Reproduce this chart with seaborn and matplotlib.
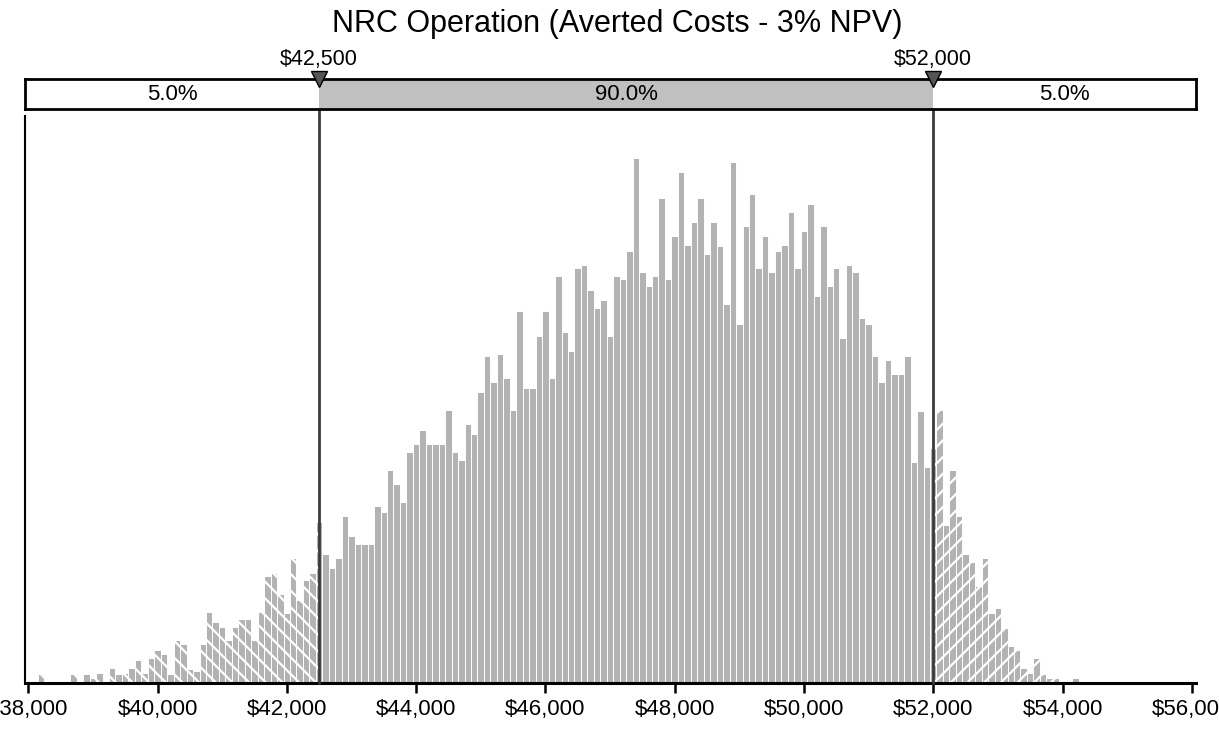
import numpy as np
import pandas as pd
import matplotlib
matplotlib.use("Agg")
import matplotlib.pyplot as plt
import seaborn as sns

# ---------------- data ----------------
title = "NRC Operation (Averted Costs - 3% NPV)"
bin_start = 38000          # centre of first bin
bin_width = 100
freq = [
    0, 0, 9, 0, 0, 0, 0, 9, 0, 9,            # 38000-38900
    5, 10, 0, 15, 9, 10, 15, 23, 10, 25,      # 39000-39900
    33, 29, 9, 43, 39, 14, 12, 39, 71, 61,    # 40000-40900
    56, 43, 56, 64, 64, 43, 71, 107, 110, 89, # 41000-41900
    70, 125, 83, 103, 110, 161, 129, 115, 125, 167,  # 42000-42900
    147, 139, 139, 139, 177, 171, 213, 199, 181, 231,  # 43000-43900
    239, 253, 239, 239, 239, 273, 231, 223, 259, 249,  # 44000-44900
    291, 327, 301, 329, 305, 273, 372, 295, 295, 347,  # 45000-45900
    372, 305, 407, 351, 332, 415, 418, 393, 375, 383,  # 46000-46900
    347, 407, 404, 432, 525, 411, 397, 407, 485, 404,  # 47000-47900
    447, 511, 438, 461, 485, 429, 461, 437, 379, 521,  # 48000-48900
    359, 457, 489, 415, 447, 411, 432, 438, 471, 415,  # 49000-49900
    452, 479, 387, 457, 397, 415, 345, 418, 411, 365,  # 50000-50900
    359, 327, 301, 323, 309, 309, 327, 221, 272, 216,  # 51000-51900
    235, 273, 158, 213, 167, 129, 121, 97, 125, 70,    # 52000-52900
    75, 55, 37, 33, 15, 10, 25, 9, 5, 5,               # 53000-53900
    0, 0, 5,                                           # 54000-54200
]
left_cut = 42500
right_cut = 52000
band_labels = ["5.0%", "90.0%", "5.0%"]
cut_labels = ["$42,500", "$52,000"]
tick_values = [38000, 40000, 42000, 44000, 46000, 48000, 50000, 52000, 54000, 56000]
tick_labels = ["$38,000", "$40,000", "$42,000", "$44,000", "$46,000",
               "$48,000", "$50,000", "$52,000", "$54,000", "$56,000"]
x_range = (37950, 56065)

# ---------------- build table ----------------
centers = bin_start + bin_width * np.arange(len(freq))
df = pd.DataFrame({"value": centers.astype(float), "freq": np.array(freq, dtype=float)})
half = bin_width // 2
last_edge = int(centers.max()) + half

edges_left = [float(e) for e in np.arange(bin_start - half, left_cut - half + 1, bin_width)] + [float(left_cut)]
edges_mid = ([float(left_cut)]
             + [float(e) for e in np.arange(left_cut + half, right_cut - half + 1, bin_width)]
             + [float(right_cut)])
edges_right = [float(right_cut)] + [float(e) for e in np.arange(right_cut + half, last_edge + 1, bin_width)]

df_left = df[df["value"] <= left_cut]
df_mid = df[(df["value"] >= left_cut) & (df["value"] <= right_cut)]
df_right = df[df["value"] >= right_cut]

# ---------------- style ----------------
sns.set_theme(style="white")
plt.rcParams["font.family"] = ["Liberation Sans", "DejaVu Sans"]
plt.rcParams["hatch.linewidth"] = 1.6
plt.rcParams["hatch.color"] = "white"

W, H = 1219, 730
fig = plt.figure(figsize=(W / 100, H / 100), dpi=100)


def fx(px):
    return px / W


def fy(py):
    return 1 - py / H


ax_l, ax_r, ax_t, ax_b = 25, 1196, 116, 682.5
ax = fig.add_axes([fx(ax_l), fy(ax_b), fx(ax_r) - fx(ax_l), fy(ax_t) - fy(ax_b)])

bar_color = "#b3b3b3"
common = dict(x="value", weights="freq", stat="count", ax=ax, color=bar_color,
              edgecolor="white", alpha=1, legend=False)
sns.histplot(data=df_left, bins=edges_left, hatch="\\\\", **common)
sns.histplot(data=df_mid, bins=edges_mid, **common)
sns.histplot(data=df_right, bins=edges_right, hatch="//", **common)
for p in ax.patches:
    p.set_linewidth(0.7)
    p.set_edgecolor("white")

ax.set_xlim(*x_range)
ax.set_ylim(0, ax_b - ax_t)
ax.set_xlabel("")
ax.set_ylabel("")
ax.set_yticks([])
ax.set_xticks(tick_values)
ax.set_xticklabels(tick_labels)
ax.tick_params(axis="x", bottom=True, direction="out", length=7, width=1.8,
               color="black", labelsize=16, pad=5, labelcolor="black")
for s in ["top", "right"]:
    ax.spines[s].set_visible(False)
ax.spines["left"].set_color("black")
ax.spines["left"].set_linewidth(1.5)
ax.spines["bottom"].set_color("black")
ax.spines["bottom"].set_linewidth(2.2)

# ---------------- band on top ----------------
band_top, band_bot = 79, 109
ax_band = fig.add_axes([fx(ax_l), fy(band_bot), fx(ax_r) - fx(ax_l), fy(band_top) - fy(band_bot)])
ax_band.set_xlim(*x_range)
ax_band.set_ylim(0, 1)
ax_band.axvspan(left_cut, right_cut, color="#c0c0c0", lw=0)
ax_band.set_xticks([])
ax_band.set_yticks([])
for s in ax_band.spines.values():
    s.set_color("black")
    s.set_linewidth(2)
ax_band.set_facecolor("white")
mids = [(x_range[0] + left_cut) / 2, (left_cut + right_cut) / 2, (right_cut + x_range[1]) / 2]
for xm, lab in zip(mids, band_labels):
    ax_band.text(xm, 0.47, lab, ha="center", va="center", fontsize=16, color="black")

# cut lines, markers and labels
line_top = (ax_b - band_top) / (ax_b - ax_t)
for xc, lab in zip([left_cut, right_cut], cut_labels):
    ax.axvline(xc, ymin=0, ymax=line_top, color="#3a3a3a", lw=2, clip_on=False, zorder=10)
    ax_band.plot([xc], [1.0], marker="v", ms=12, color="#555555", mec="black", mew=1,
                 clip_on=False, zorder=12)
    ax_band.text(xc, (band_bot - 59) / (band_bot - band_top), lab, ha="center", va="center",
                 fontsize=15.5, color="black", clip_on=False)

fig.text(fx(617), fy(24), title, ha="center", va="center", fontsize=22, color="black")

fig.savefig("out.png", dpi=100)
